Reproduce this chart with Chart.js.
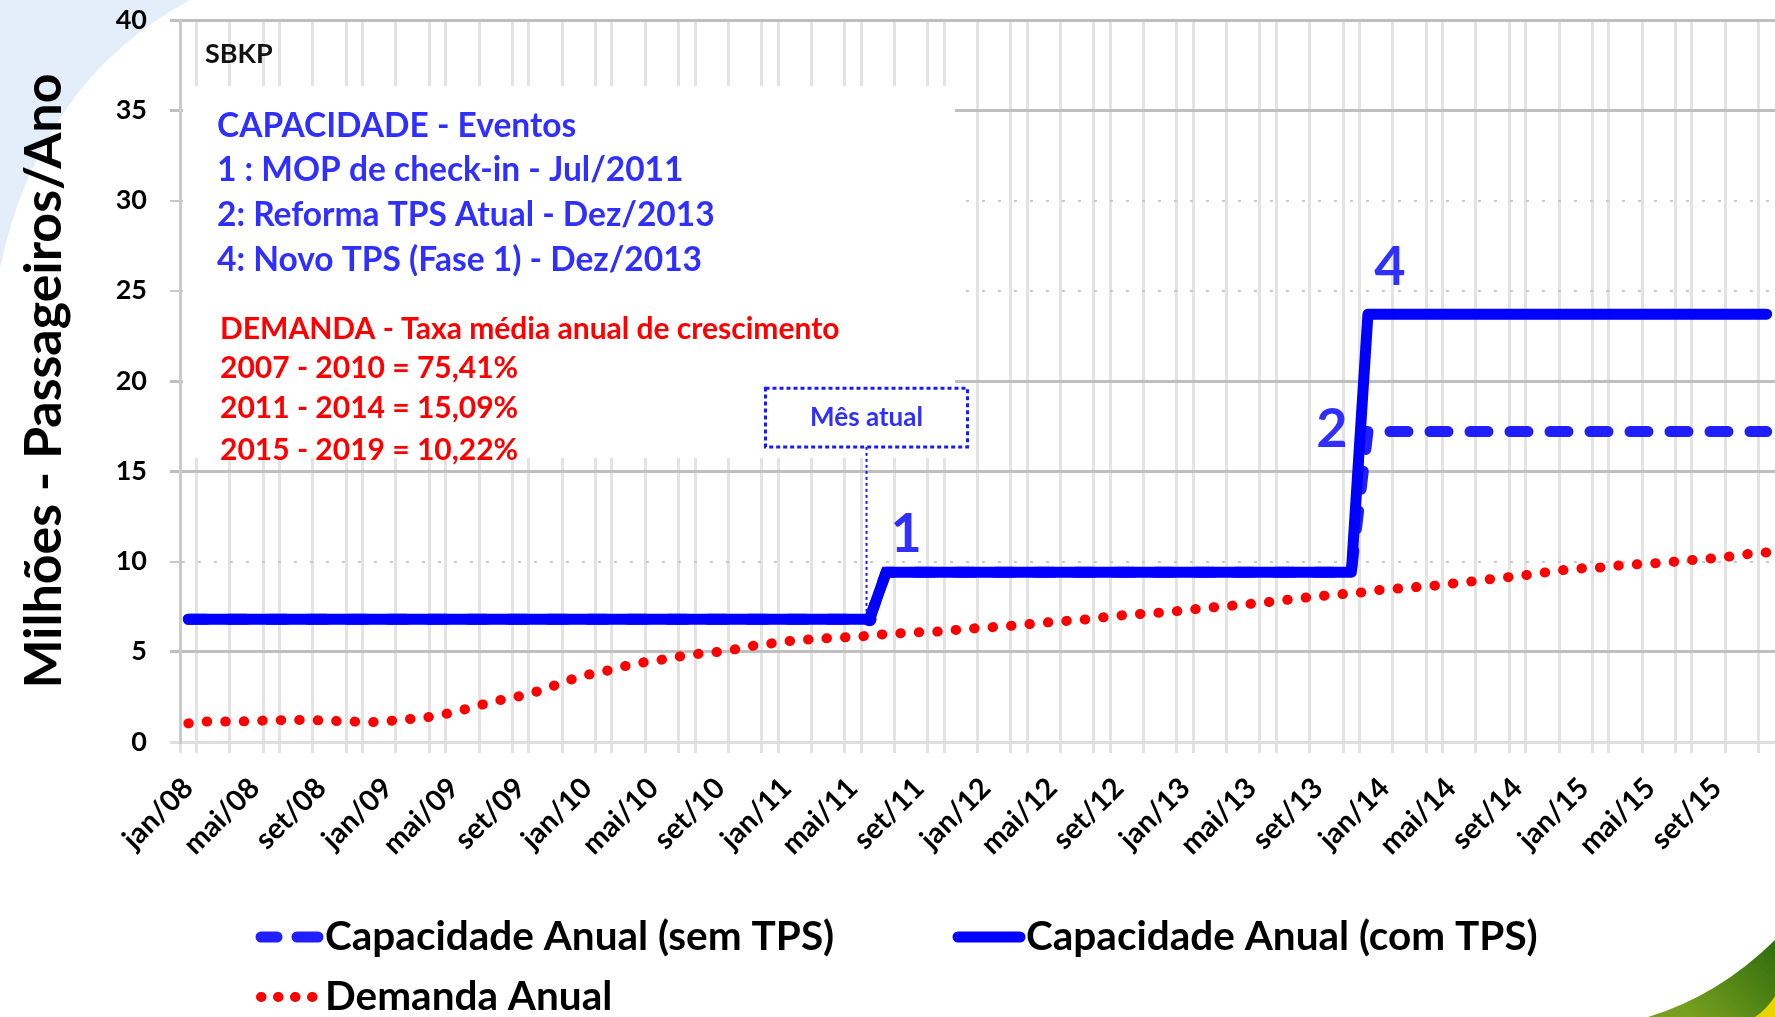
<!DOCTYPE html>
<html>
<head>
<meta charset="utf-8">
<script src="https://cdn.jsdelivr.net/npm/chart.js@4.4.0/dist/chart.umd.min.js"></script>
<style>
html,body{margin:0;padding:0;background:#fff;overflow:hidden}
canvas{display:block}
</style>
</head>
<body>
<canvas id="c" width="1775" height="1017"></canvas>
<script>
// ---------- DATA ----------
const monthNames = ['jan','fev','mar','abr','mai','jun','jul','ago','set','out','nov','dez'];
const yearNames = ['08','09','10','11','12','13','14','15'];
const categories = yearNames.flatMap(y => monthNames.map(m => m + '/' + y));

const tickLabels = ['jan/08','mai/08','set/08','jan/09','mai/09','set/09','jan/10','mai/10','set/10',
  'jan/11','mai/11','set/11','jan/12','mai/12','set/12','jan/13','mai/13','set/13',
  'jan/14','mai/14','set/14','jan/15','mai/15','set/15'];

const yTicks = [0, 5, 10, 15, 20, 25, 30, 35, 40];

// Capacidade Anual (sem TPS) - milhões pax/ano
const capSemTPS = [
  6.8,6.8,6.8,6.8,6.8,6.8,6.8,6.8,6.8,6.8,6.8,6.8,
  6.8,6.8,6.8,6.8,6.8,6.8,6.8,6.8,6.8,6.8,6.8,6.8,
  6.8,6.8,6.8,6.8,6.8,6.8,6.8,6.8,6.8,6.8,6.8,6.8,
  6.8,6.8,6.8,6.8,6.8,6.8,9.4,9.4,9.4,9.4,9.4,9.4,
  9.4,9.4,9.4,9.4,9.4,9.4,9.4,9.4,9.4,9.4,9.4,9.4,
  9.4,9.4,9.4,9.4,9.4,9.4,9.4,9.4,9.4,9.4,9.4,17.2,
  17.2,17.2,17.2,17.2,17.2,17.2,17.2,17.2,17.2,17.2,17.2,17.2,
  17.2,17.2,17.2,17.2,17.2,17.2,17.2,17.2,17.2,17.2,17.2,17.2
];

// Capacidade Anual (com TPS)
const capComTPS = [
  6.8,6.8,6.8,6.8,6.8,6.8,6.8,6.8,6.8,6.8,6.8,6.8,
  6.8,6.8,6.8,6.8,6.8,6.8,6.8,6.8,6.8,6.8,6.8,6.8,
  6.8,6.8,6.8,6.8,6.8,6.8,6.8,6.8,6.8,6.8,6.8,6.8,
  6.8,6.8,6.8,6.8,6.8,6.8,9.4,9.4,9.4,9.4,9.4,9.4,
  9.4,9.4,9.4,9.4,9.4,9.4,9.4,9.4,9.4,9.4,9.4,9.4,
  9.4,9.4,9.4,9.4,9.4,9.4,9.4,9.4,9.4,9.4,9.4,23.7,
  23.7,23.7,23.7,23.7,23.7,23.7,23.7,23.7,23.7,23.7,23.7,23.7,
  23.7,23.7,23.7,23.7,23.7,23.7,23.7,23.7,23.7,23.7,23.7,23.7
];

// Demanda Anual
const demanda = [
  1.03,1.13,1.13,1.13,1.17,1.20,1.22,1.22,1.20,1.16,1.13,1.10,
  1.15,1.26,1.31,1.47,1.65,1.90,2.15,2.37,2.55,2.80,3.12,3.45,
  3.72,3.90,4.15,4.35,4.50,4.63,4.82,4.91,5.00,5.15,5.33,5.45,
  5.58,5.66,5.72,5.78,5.82,5.89,5.98,6.03,6.08,6.11,6.19,6.28,
  6.33,6.41,6.47,6.57,6.65,6.72,6.79,6.90,7.00,7.08,7.13,7.20,
  7.30,7.40,7.49,7.57,7.66,7.75,7.86,7.98,8.06,8.18,8.21,8.33,
  8.46,8.51,8.59,8.66,8.77,8.87,8.98,9.09,9.18,9.31,9.44,9.55,
  9.63,9.67,9.77,9.84,9.89,9.95,10.04,10.12,10.19,10.30,10.43,10.50
];

const seriesNames = ['Capacidade Anual (sem TPS)', 'Capacidade Anual (com TPS)', 'Demanda Anual'];

const currentMonth = 'jun/11';
const eventMarks = [
  { text: '1', label: 'jul/11', series: 1, dx: 20, dy: -38 },
  { text: '4', label: 'dez/13', series: 1, dx: 22, dy: -47 },
  { text: '2', label: 'dez/13', series: 0, dx: -36, dy: -2 }
];

const boxTitle = 'SBKP';
const capLines = ['CAPACIDADE - Eventos', '1 : MOP de check-in - Jul/2011',
  '2: Reforma TPS Atual - Dez/2013', '4: Novo TPS (Fase 1) - Dez/2013'];
const demLines = ['DEMANDA - Taxa média anual de crescimento', '2007 - 2010 = 75,41%',
  '2011 - 2014 = 15,09%', '2015 - 2019 = 10,22%'];

// ---------- STYLE ----------
const FONT = 'Lato, "Open Sans", sans-serif';
const BLUE = '#0000ff';
const BLUE_TXT = '#2f2fff';
const RED = '#ff0000';

const bgPlugin = {
  id: 'bg',
  beforeDraw(chart) {
    const ctx = chart.ctx;
    ctx.save();
    ctx.fillStyle = '#ffffff';
    ctx.fillRect(0, 0, chart.width, chart.height);
    ctx.fillStyle = '#e4eefa';
    ctx.beginPath();
    ctx.moveTo(0, 0); ctx.lineTo(190, 0);
    ctx.quadraticCurveTo(40, 80, 0, 268);
    ctx.closePath(); ctx.fill();
    const g = ctx.createLinearGradient(1775, 935, 1690, 1017);
    g.addColorStop(0, '#2d6a0b'); g.addColorStop(1, '#78a020');
    ctx.fillStyle = g;
    ctx.beginPath();
    ctx.moveTo(1775, 940);
    ctx.quadraticCurveTo(1718, 996, 1648, 1017);
    ctx.lineTo(1775, 1017); ctx.closePath(); ctx.fill();
    ctx.fillStyle = '#e8d400';
    ctx.beginPath();
    ctx.moveTo(1775, 996);
    ctx.quadraticCurveTo(1767, 1009, 1755, 1017);
    ctx.lineTo(1775, 1017); ctx.closePath(); ctx.fill();
    ctx.restore();
  }
};

const boxPlugin = {
  id: 'infobox',
  beforeDatasetsDraw(chart) {
    const ctx = chart.ctx;
    const ca = chart.chartArea;
    ctx.save();
    ctx.fillStyle = '#ffffff';
    ctx.fillRect(ca.left + 3, 86, 955 - ca.left - 3, 372);
    ctx.textBaseline = 'middle';
    ctx.textAlign = 'left';
    ctx.fillStyle = '#111';
    ctx.font = 'bold 27px ' + FONT;
    ctx.fillText(boxTitle, 205, 54);
    ctx.fillStyle = BLUE_TXT;
    ctx.font = 'bold 33.5px ' + FONT;
    const capY = [126, 170, 215, 260];
    capLines.forEach((t, i) => ctx.fillText(t, 217, capY[i]));
    ctx.fillStyle = RED;
    ctx.font = 'bold 30px ' + FONT;
    const demY = [329, 368, 408, 450];
    demLines.forEach((t, i) => ctx.fillText(t, 220, demY[i]));
    ctx.restore();
  }
};

const annoPlugin = {
  id: 'annos',
  afterDatasetsDraw(chart) {
    const ctx = chart.ctx;
    const xs = chart.scales.x, ys = chart.scales.y;
    ctx.save();
    // Mês atual
    const ci = categories.indexOf(currentMonth);
    const cx = xs.getPixelForValue(ci) - 3;
    const cy = ys.getPixelForValue(capComTPS[ci]);
    const bTop = ys.getPixelForValue(19.6), bBot = ys.getPixelForValue(16.35);
    ctx.fillStyle = '#fff';
    ctx.fillRect(cx - 101, bTop, 202, bBot - bTop);
    ctx.strokeStyle = '#1a1aff';
    ctx.lineWidth = 3;
    ctx.setLineDash([4, 3]);
    ctx.strokeRect(cx - 101, bTop, 202, bBot - bTop);
    ctx.lineWidth = 2;
    ctx.setLineDash([3, 3]);
    ctx.beginPath(); ctx.moveTo(cx, bBot); ctx.lineTo(cx, cy - 4); ctx.stroke();
    ctx.setLineDash([]);
    ctx.fillStyle = BLUE_TXT;
    ctx.font = 'bold 26px ' + FONT;
    ctx.textAlign = 'center'; ctx.textBaseline = 'middle';
    ctx.fillText('Mês atual', cx, (bTop + bBot) / 2);
    // event numbers
    ctx.font = 'bold 54px ' + FONT;
    const vals = [capSemTPS, capComTPS];
    eventMarks.forEach(m => {
      const i = categories.indexOf(m.label);
      const x = xs.getPixelForValue(i) + m.dx;
      const y = ys.getPixelForValue(vals[m.series][i]) + m.dy;
      ctx.fillText(m.text, x, y);
    });
    ctx.restore();
  }
};

const legendPlugin = {
  id: 'customLegend',
  afterDraw(chart) {
    const ctx = chart.ctx;
    const ds = chart.data.datasets;
    const items = [
      { d: ds[0], x0: 261, x1: 318, tx: 325, y: 937 },
      { d: ds[1], x0: 958, x1: 1020, tx: 1026, y: 937 },
      { d: ds[2], x0: 261, x1: 314, tx: 325, y: 997 }
    ];
    ctx.save();
    items.forEach(it => {
      ctx.strokeStyle = it.d.borderColor;
      ctx.lineWidth = it.d.borderWidth;
      ctx.lineCap = it.d.borderCapStyle || 'butt';
      ctx.setLineDash(it.d.legendDash || []);
      ctx.beginPath(); ctx.moveTo(it.x0, it.y); ctx.lineTo(it.x1, it.y); ctx.stroke();
      ctx.setLineDash([]);
      ctx.fillStyle = '#000';
      ctx.font = 'bold 40.5px ' + FONT;
      ctx.textAlign = 'left'; ctx.textBaseline = 'middle';
      ctx.fillText(it.d.label, it.tx, it.y);
    });
    ctx.restore();
  }
};

const dottedY = [10, 25, 30];
const noPad = s => { s.paddingLeft = 0; s.paddingRight = 0; s.paddingTop = 0; s.paddingBottom = 0; };

new Chart(document.getElementById('c'), {
  type: 'line',
  data: {
    labels: categories,
    datasets: [
      { label: seriesNames[0], data: capSemTPS, borderColor: '#1f1fff', borderWidth: 11,
        borderDash: [18, 22], borderCapStyle: 'round', legendDash: [16, 20, 21, 100], pointRadius: 0, order: 1, tension: 0 },
      { label: seriesNames[1], data: capComTPS, borderColor: BLUE, backgroundColor: BLUE, borderWidth: 11,
        borderCapStyle: 'round', borderJoinStyle: 'round',
        pointRadius: c => (c.dataIndex === categories.indexOf(currentMonth) ? 7 : 0),
        pointBorderWidth: 0, order: 0, tension: 0 },
      { label: seriesNames[2], data: demanda, borderColor: RED, borderWidth: 10,
        borderDash: [0.5, 18], borderCapStyle: 'round', legendDash: [0.5, 16.5], pointRadius: 0, order: 2, tension: 0 }
    ]
  },
  options: {
    responsive: false,
    animation: false,
    devicePixelRatio: 1,
    layout: { padding: { top: 20, right: 0, left: 0, bottom: 0 } },
    plugins: { legend: { display: false }, tooltip: { enabled: false } },
    scales: {
      x: {
        type: 'category',
        offset: true,
        afterFit: s => { s.height = 275; noPad(s); },
        grid: {
          offset: true,
          color: c => ([0, 1, 3].includes(c.index % 5) ? '#e3e3e3' : 'rgba(0,0,0,0)'),
          lineWidth: 3,
          tickLength: 11
        },
        border: { display: true, color: '#dedede', width: 3 },
        ticks: {
          autoSkip: false,
          maxRotation: 45, minRotation: 45,
          padding: 18,
          color: '#000',
          font: { family: FONT, weight: 'bold', size: 29 },
          callback: (v, i) => (tickLabels.includes(categories[i]) ? categories[i] : '')
        }
      },
      y: {
        min: 0, max: 40,
        afterFit: s => { s.width = 180; noPad(s); },
        afterBuildTicks: s => { s.ticks = yTicks.map(v => ({ value: v })); },
        grid: {
          color: c => (c.tick && c.tick.value === 0 ? '#dedede' : (c.tick && dottedY.includes(c.tick.value) ? '#c9c9c9' : '#bfbfbf')),
          lineWidth: c => (c.tick && dottedY.includes(c.tick.value) ? 2 : 3),
          tickLength: 10
        },
        border: {
          display: true, color: '#cacaca', width: 3,
          dash: c => (c.tick && dottedY.includes(c.tick.value) ? [3, 13] : [])
        },
        ticks: {
          padding: 23,
          color: '#000',
          font: { family: FONT, weight: 'bold', size: 27 }
        },
        title: {
          display: true,
          text: 'Milhões - Passageiros/Ano',
          color: '#000',
          font: { family: FONT, weight: 'bold', size: 52 },
          padding: { top: 13, bottom: 0 }
        }
      }
    }
  },
  plugins: [bgPlugin, boxPlugin, annoPlugin, legendPlugin]
});
</script>
</body>
</html>
